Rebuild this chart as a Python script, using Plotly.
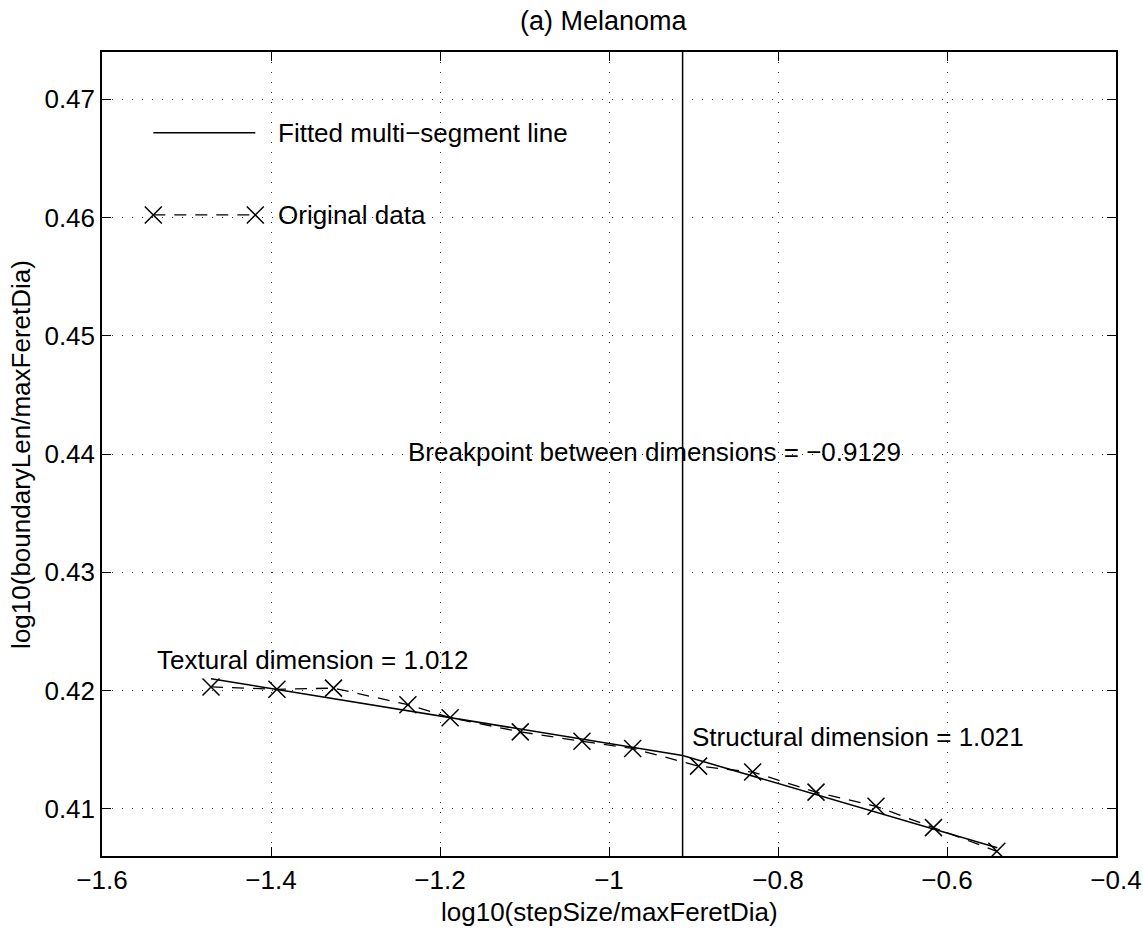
import plotly.graph_objects as go

# ---- data ----
log_step = [-1.471, -1.393, -1.326, -1.238, -1.188, -1.105, -1.032,
            -0.972, -0.894, -0.830, -0.755, -0.684, -0.616, -0.541]
log_len = [0.4203, 0.4201, 0.4202, 0.4188, 0.4177, 0.4165, 0.4157,
           0.4151, 0.4136, 0.4131, 0.4114, 0.4102, 0.4084, 0.4064]

fit_x = [-1.471, -0.9129, -0.5405]
fit_y = [0.4210, 0.4145, 0.4067]

breakpoint_x = -0.9129

x_ticks = [-1.6, -1.4, -1.2, -1.0, -0.8, -0.6, -0.4]
y_ticks = [0.41, 0.42, 0.43, 0.44, 0.45, 0.46, 0.47]

legend_labels = ["Fitted multi\u2212segment line", "Original data"]

FONT = "Liberation Sans, Arial, Helvetica, sans-serif"
FS = 26

fig = go.Figure()

# fitted multi-segment line
fig.add_trace(go.Scatter(
    x=fit_x, y=fit_y, mode="lines",
    line=dict(color="black", width=1.5),
    showlegend=False, hoverinfo="skip"))

# original data
fig.add_trace(go.Scatter(
    x=log_step, y=log_len, mode="lines+markers",
    line=dict(color="black", width=1.3, dash="12px,9px"),
    marker=dict(symbol="x-thin", size=17,
                line=dict(color="black", width=1.5)),
    showlegend=False))

# manual legend drawn in an overlay axis with [0,1] range
leg_x = [0.0506, 0.1512]
leg_y = [0.8996, 0.7973]
fig.add_trace(go.Scatter(
    x=leg_x, y=[leg_y[0]] * 2, mode="lines",
    line=dict(color="black", width=1.5),
    xaxis="x2", yaxis="y2", showlegend=False, hoverinfo="skip"))
fig.add_trace(go.Scatter(
    x=leg_x, y=[leg_y[1]] * 2, mode="lines+markers",
    line=dict(color="black", width=1.3, dash="12px,9px"),
    marker=dict(symbol="x-thin", size=17,
                line=dict(color="black", width=1.5)),
    xaxis="x2", yaxis="y2", showlegend=False, hoverinfo="skip"))

# breakpoint vertical line
fig.add_shape(type="line", xref="x", yref="paper",
              x0=breakpoint_x, x1=breakpoint_x, y0=0, y1=1,
              line=dict(color="black", width=1.5))

annots = [
    dict(text=legend_labels[0], x=0.1716, y=leg_y[0], xref="paper", yref="paper",
         xanchor="left", yanchor="middle"),
    dict(text=legend_labels[1], x=0.1716, y=leg_y[1], xref="paper", yref="paper",
         xanchor="left", yanchor="middle"),
    dict(text="Breakpoint between dimensions = \u22120.9129",
         x=0.300, y=0.4402, xref="paper", yref="y",
         xanchor="left", yanchor="middle"),
    dict(text="Textural dimension = 1.012",
         x=0.052, y=0.4226, xref="paper", yref="y",
         xanchor="left", yanchor="middle"),
    dict(text="Structural dimension = 1.021",
         x=0.580, y=0.4161, xref="paper", yref="y",
         xanchor="left", yanchor="middle"),
    dict(text="log10(stepSize/maxFeretDia)",
         x=0.5, y=-0.070, xref="paper", yref="paper",
         xanchor="center", yanchor="middle"),
    dict(text="log10(boundaryLen/maxFeretDia)",
         x=-0.080, y=0.5, xref="paper", yref="paper",
         xanchor="center", yanchor="middle", textangle=-90),
]
for a in annots:
    a.update(showarrow=False, font=dict(family=FONT, size=FS, color="black"))
    fig.add_annotation(**a)

grid_style = dict(showgrid=True, gridcolor="#333333", gridwidth=1,
                  griddash="1px,9px", zeroline=False,
                  showline=True, linecolor="black", linewidth=1.5,
                  mirror="ticks", ticks="inside", ticklen=9,
                  tickcolor="black", tickwidth=1.2, automargin=False,
                  tickfont=dict(family=FONT, size=FS, color="black"))

fig.update_layout(
    width=1143, height=929,
    margin=dict(l=102, r=27, t=52, b=73, autoexpand=False),
    paper_bgcolor="white", plot_bgcolor="white",
    title=dict(text="(a) Melanoma", x=0.5278, xanchor="center",
               y=0.978, yanchor="middle",
               font=dict(family=FONT, size=27, color="black")),
    xaxis=dict(range=[-1.6, -0.4], tickvals=x_ticks, **grid_style),
    yaxis=dict(range=[0.406, 0.474], tickvals=y_ticks,
               tickformat=".2f", **grid_style),
    xaxis2=dict(range=[0, 1], overlaying="x", visible=False),
    yaxis2=dict(range=[0, 1], overlaying="y", visible=False),
    showlegend=False,
)

fig.write_html("out.html")
